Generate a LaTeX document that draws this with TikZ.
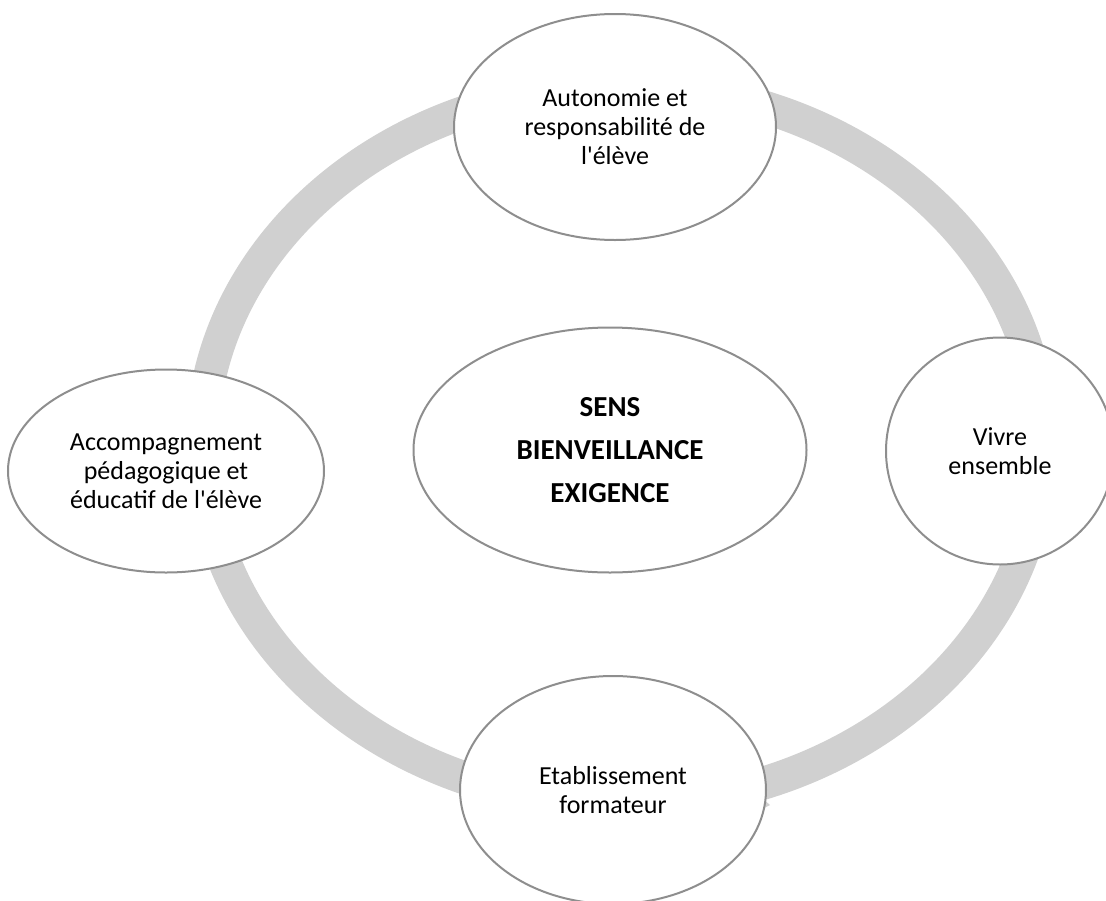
\documentclass[tikz,border=0pt]{standalone}
\usepackage{fontspec}
\setmainfont{Carlito}[Ligatures=TeXOff]
\usetikzlibrary{shapes.geometric}
\definecolor{ringgray}{RGB}{208,208,208}
\definecolor{bordergray}{RGB}{142,142,142}
\begin{document}
\begin{tikzpicture}[x=1pt,y=-1pt,
  bubble/.style={draw=bordergray, line width=2pt, fill=white, ellipse, inner sep=0pt,
    align=center, text=black, font=\fontsize{26}{29}\selectfont},
  core/.style={bubble, font=\bfseries\fontsize{29}{43}\selectfont},
  ringline/.style={draw=ringgray, line width=33pt}
]
\useasboundingbox (0,0) rectangle (1106,900);
\clip (0,0) rectangle (1106,900);
% ring
\draw[ringline] (622,445) ellipse [x radius=420, y radius=359];
\fill[ringgray] (762,798) -- (770,805) -- (762,809) -- cycle;
% bubbles
\node[bubble, minimum width=322pt, minimum height=226pt] (auto) at (615,127)
  {Autonomie et\\responsabilité de\\l'élève};
\node[bubble, minimum width=316pt, minimum height=203pt] (acc) at (166,471)
  {Accompagnement\\pédagogique et\\éducatif de l'élève};
\node[core, minimum width=393pt, minimum height=245pt] (sens) at (610,450)
  {SENS\\BIENVEILLANCE\\EXIGENCE};
\node[bubble, minimum width=228pt, minimum height=227pt] (vivre) at (1000,451)
  {Vivre\\ensemble};
\node[bubble, minimum width=306pt, minimum height=228pt] (etab) at (613,790)
  {Etablissement\\formateur};
\end{tikzpicture}
\end{document}
